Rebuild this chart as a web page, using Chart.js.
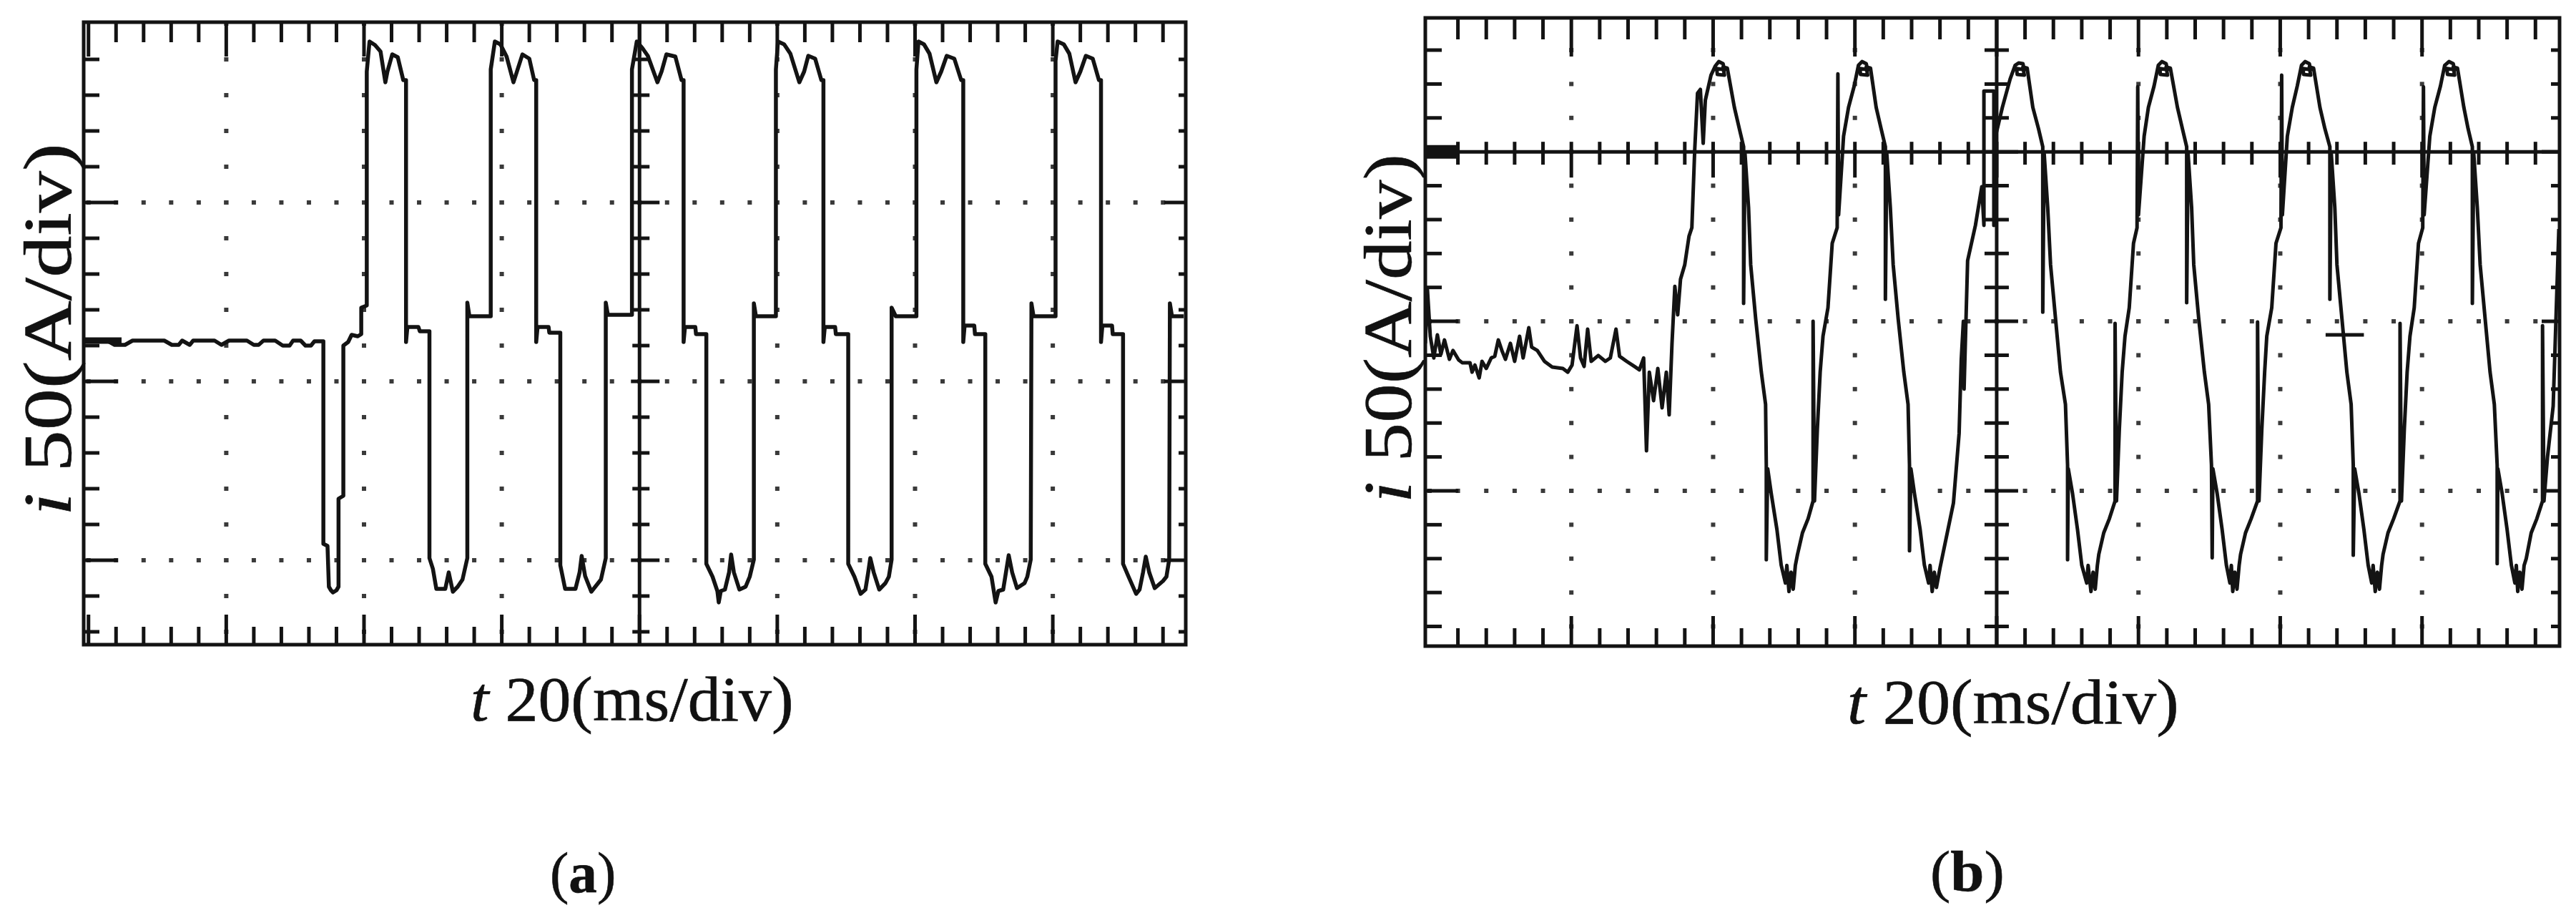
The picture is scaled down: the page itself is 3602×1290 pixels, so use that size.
<!DOCTYPE html>
<html>
<head>
<meta charset="utf-8">
<title>Fault current oscillograms</title>
<script src="https://cdn.jsdelivr.net/npm/chart.js@4.4.1/dist/chart.umd.min.js"></script>
<style>
  html, body { margin: 0; background: #fff; }
  body { width: 3602px; height: 1290px; position: relative; overflow: hidden; font-family: 'Liberation Serif', 'Times New Roman', serif; color: #111; }
  .scope { position: absolute; }
  .lbl { position: absolute; white-space: nowrap; line-height: 1; transform-origin: 0 0; -webkit-text-stroke: 0.6px #111; }
</style>
</head>
<body>
<canvas id="scope-a" class="scope" width="1561" height="890" style="left:107px;top:21px"></canvas>
<canvas id="scope-b" class="scope" width="1606" height="898" style="left:1983px;top:15px"></canvas>

<script>
/* ---- axes: time in ms (20 ms/div), current in A (50 A/div) ---- */
const TIME_RANGE = [0, 160];
const TIME_MINOR = 4;
const CURRENT_MINOR = 10;
const GRID_TIMES = [20, 40, 60, 100, 120, 140];
const CENTER_TIME = 80;
const A_CURRENT_RANGE = [-73.6, 100.4];
const B_CURRENT_RANGE = [-145.8, 39.5];
const A_GRID_CURRENTS = [50, 0, -50];
const B_GRID_CURRENTS = [-50, -100];
const B_AXIS_CURRENT = 0;

/* ---- axis texts ---- */
const X_SYMBOL = 't', X_UNIT = '20(ms/div)';
const Y_SYMBOL = 'i', Y_UNIT = '50(A/div)';
const PANEL_TAGS = ['a', 'b'];

/* ---- (a) current trace, [ms, A] ---- */
const A_PREFAULT = [[0,11.4],[3.4,11.4],[4.5,10.2],[6.0,10.2],[7.1,11.4],[11.7,11.4],[12.8,10.2],[13.8,10.2],[14.3,11.4],
  [15.4,10.2],[15.9,11.4],[19.0,11.4],[20.0,10.2],[21.1,11.4],[23.7,11.4],[24.7,10.2],[25.4,10.2],[26.1,11.4],[27.8,11.4],
  [28.9,10],[29.9,10],[30.4,11.4],[31.5,11.4],[32.2,10],[33.0,10],[33.5,11.2],[34.8,11.2]];
const A_FAULT = [[34.8,-45.4],[35.4,-46],[35.6,-57.4],[35.9,-58.4],[36.2,-59],[36.7,-58.4],[37.0,-57.4],[37.0,-32.8],
  [37.7,-32],[37.7,10],[38.4,11],[38.9,13],[39.8,12.6],[40.3,13.2],[40.3,20.6],[41.1,21.2],[41.1,86.6]];
const A_PULSE_1 = [[41.5,95],[42.3,94],[43.1,92.2],[43.8,83.6],[44.1,86.6],[44.8,91.4],[45.6,90.6],[46.4,84.2],[46.8,84.2],
  [46.8,11],[47.0,15.2],[48.6,15.2],[48.8,14],[50.2,14],[50.2,-49.4],[50.7,-52.4],[51.2,-58],[52.5,-58],[53.0,-53.4],
  [53.6,-58.8],[54.3,-57.4],[55.0,-55.4],[55.7,-49.4],[55.7,22],[56.0,18.2],[59.1,18.2],[59.1,87.2]];
const A_PULSE_2 = [[59.7,95],[60.5,94.2],[61.4,90.8],[62.4,83.6],[62.9,86.6],[63.7,91.4],[64.7,90.2],[65.4,84.2],[65.7,84.2],
  [65.7,11],[65.9,15.2],[67.5,15.2],[67.6,13.6],[69.2,13.6],[69.2,-51.4],[69.9,-58],[71.4,-58],[72.0,-53.4],[72.3,-48.8],
  [72.8,-54.4],[73.7,-58.8],[75.1,-55.4],[75.8,-49.4],[75.8,22],[76.1,18.6],[79.6,18.6],[79.6,87.2]];
const A_PULSE_3 = [[80.3,95],[81.1,93.2],[81.9,91],[83.3,83.6],[83.9,86.6],[84.6,91.4],[85.9,90.8],[86.8,84.2],[87.1,84.2],
  [87.1,11],[87.3,15.2],[88.8,15.2],[88.9,13.2],[90.4,13.2],[90.4,-51],[91.3,-54.6],[92.0,-58.6],[92.2,-61.8],[92.5,-58.6],
  [93.1,-58.2],[93.7,-53.4],[94.0,-48.4],[94.4,-53.4],[95.2,-58.2],[96.1,-57.4],[96.7,-54.6],[97.3,-49.8],[97.3,21.8],
  [97.6,18.2],[100.5,18.2],[100.5,87.2]];
const A_PULSE_4 = [[100.8,95],[101.7,94.2],[102.6,91.6],[103.9,83.6],[104.6,86.6],[105.2,91],[106.2,90.2],[107.1,84.2],
  [107.4,84.2],[107.4,11],[107.6,15.2],[109.1,15.2],[109.2,13.2],[111.0,13.2],[111.0,-51],[111.9,-54.6],[112.8,-59.4],
  [113.5,-58.2],[113.9,-53.4],[114.2,-49.4],[114.7,-53.4],[115.5,-58.2],[116.4,-56.4],[116.9,-54.6],[117.3,-49.8],
  [117.3,20.6],[117.9,18.2],[120.9,18.2],[120.9,87.2]];
const A_PULSE_5 = [[121.2,95],[122.0,94.2],[122.8,91.6],[123.8,83.6],[124.5,86.6],[125.3,91],[126.4,90.2],[127.4,84.2],
  [127.7,84.2],[127.7,11],[127.9,15.6],[129.3,15.6],[129.4,13.2],[130.9,13.2],[130.9,-51],[131.8,-54.6],[132.4,-61.8],
  [132.8,-58.6],[133.5,-58.2],[133.9,-53.4],[134.3,-48.6],[134.8,-53.4],[135.5,-57.8],[136.6,-56.4],[137.0,-54.6],
  [137.5,-49.8],[137.6,21.8],[137.9,18.2],[141.1,18.2],[141.1,89.6]];
const A_PULSE_6 = [[141.4,95],[142.3,94.2],[143.1,91.6],[144.0,83.6],[144.7,86.6],[145.5,91],[146.5,90.2],[147.4,84.2],
  [147.7,84.2],[147.7,11],[147.9,15.6],[149.3,15.6],[149.4,13.2],[150.9,13.2],[150.9,-51],[151.7,-54.6],[152.8,-59.4],
  [153.3,-58.2],[153.8,-53.4],[154.2,-49],[154.7,-53.4],[155.5,-57.8],[156.7,-55.8],[157.2,-54.6],[157.6,-49.8],
  [157.7,21.8],[158.0,18.2],[159.7,18.2]];
const A_START_MARK = [[0,11.4],[5.5,11.4]];

/* ---- (b) current trace, [ms, A] ---- */
const B_PREFAULT = [[0,-56.5],[0.3,-40.7],[0.7,-54.4],[1.2,-60.8],[1.7,-54],[2.2,-59.7],[2.7,-55.5],[3.4,-61.2],[3.9,-58.6],
  [4.7,-61.4],[5.2,-62.2],[6.3,-62.2],[6.6,-65],[7.0,-62.9],[7.6,-66.7],[8.0,-61.8],[8.6,-63.9],[9.3,-60.8],[9.8,-60.3],
  [10.3,-55.5],[10.8,-58.6],[11.3,-61.2],[12.0,-56.5],[12.6,-61.8],[13.3,-54.4],[13.8,-60.8],[14.6,-51.9],[15.0,-57.6],
  [15.8,-58.6],[16.8,-61.8],[17.9,-63.5],[19.4,-63.9],[20.1,-65],[20.7,-62.9],[21.4,-51.3],[21.9,-60.8],[22.4,-63.3],
  [22.9,-52.3],[23.4,-61.8],[24.4,-60.1],[25.4,-61.8],[26.1,-60.8],[26.9,-52.3],[27.4,-60.3],[28.4,-61.8],[29.5,-63.3],
  [30.2,-64.3],[30.8,-60.8],[31.2,-88.2],[31.6,-65],[32.2,-73.4],[32.8,-63.9],[33.4,-75.5],[34.0,-65],[34.4,-77.6],
  [34.8,-56.5],[35.2,-39.7],[35.6,-48.1],[36.0,-37.6],[36.6,-33.3],[37.2,-24.9],[37.6,-22.4],[38.0,0.4],[38.4,17.3],
  [38.8,18.4],[39.2,2.5],[39.5,15.2],[40.3,22.6],[40.9,25.3]];
const B_CYCLE_1 = [[41.4,26.6],[42.0,26.0],[42.2,24.2],[41.1,24.6],[41.2,22.8],[42.2,22.6],[42.0,25.0],[42.6,24.7],
  [43.6,13.1],[44.3,6.8],[44.9,1.5],[44.9,-44.7],[45.1,-0.6],[45.6,-16.5],[45.9,-33.3],[46.6,-49.2],[47.4,-65],[48.0,-74.5],
  [48.1,-92.4],[48.1,-120.3],[48.3,-93.5],[48.8,-100.8],[49.6,-111.4],[50.2,-121.9],[50.8,-127.2],[51.0,-122],[51.3,-129.7],
  [51.6,-124],[51.9,-129],[52.2,-122],[52.5,-118.8],[53.2,-112.4],[54.0,-108.2],[54.7,-103],[54.7,-50],[54.9,-103],
  [55.3,-81.9],[55.7,-65],[56.1,-54.4],[56.8,-46],[57.4,-27],[58.1,-22.4],[58.2,23],[58.3,-18.6],[59.0,4.6],[59.7,13.1],
  [60.5,19.4],[61.1,25.5]];
const B_CYCLE_2 = [[61.6,26.6],[62.2,26.0],[62.4,24.2],[61.3,24.6],[61.4,22.8],[62.4,22.6],[62.2,25.0],[62.8,24.7],
  [63.6,13.1],[64.3,6.8],[64.9,1.5],[64.9,-43.5],[65.1,-0.6],[65.6,-16.5],[66.0,-33.3],[66.7,-49.2],[67.5,-65],[68.1,-74.5],
  [68.3,-92.4],[68.3,-117.7],[68.5,-93.5],[69.0,-100.8],[69.8,-111.4],[70.4,-121.9],[71.0,-127.2],[71.2,-122],[71.5,-129.7],
  [71.8,-124],[72.1,-128.5],[72.6,-122.8],[74.5,-103.6],[75.3,-83.1],[75.6,-61.4],[75.9,-50],[76.0,-70],[76.5,-32.1],
  [77.6,-21.7],[78.5,-10.3],[78.8,-21.7],[78.8,17.9],[80.2,17.9],[80.2,-21.7],[80.2,2.5],[81.4,13.1],[82.5,21.5],[83.2,25.5]];
const B_CYCLE_3 = [[83.7,26.2],[84.3,26.0],[84.5,24.2],[83.4,24.6],[83.5,22.8],[84.5,22.6],[84.3,25.0],[84.9,24.7],
  [85.7,13.1],[86.5,6.8],[87.1,1.5],[87.1,-47.3],[87.3,-0.6],[87.8,-16.5],[88.2,-33.3],[88.9,-49.2],[89.6,-65],[90.3,-74.5],
  [90.6,-92.4],[90.6,-120.3],[90.7,-93.5],[91.3,-100.8],[92.0,-111.4],[92.6,-121.9],[93.3,-127.2],[93.5,-122],[93.9,-129.7],
  [94.2,-124],[94.5,-129],[94.8,-122],[95.0,-118.8],[95.7,-112.4],[96.5,-108.2],[97.3,-103],[97.3,-50.6],[97.5,-103],
  [97.9,-81.9],[98.3,-65],[98.7,-54.4],[99.3,-46],[99.9,-27],[100.4,-22.4],[100.5,19.2],[100.6,-18.6],[101.4,4.6],
  [102.0,13.1],[102.8,19.4],[103.4,25.5]];
const B_CYCLE_4 = [[103.9,26.6],[104.5,26.0],[104.7,24.2],[103.6,24.6],[103.7,22.8],[104.7,22.6],[104.5,25.0],[105.1,24.7],
  [106.1,13.1],[106.8,6.8],[107.4,1.5],[107.4,-44.5],[107.6,-0.6],[108.1,-16.5],[108.4,-33.3],[109.1,-49.2],[109.9,-65],
  [110.5,-74.5],[110.9,-92.4],[111.0,-119.8],[111.1,-93.5],[111.7,-100.8],[112.4,-111.4],[113.0,-121.9],[113.5,-127.2],
  [113.7,-122],[113.9,-129.7],[114.2,-124],[114.5,-129],[114.8,-122],[115.0,-118.8],[115.7,-112.4],[116.5,-108.2],
  [117.4,-103],[117.4,-50.2],[117.6,-103],[118.0,-81.9],[118.4,-65],[118.7,-54.4],[119.4,-46],[120.0,-27],[120.7,-22.4],
  [120.8,22.6],[120.9,-18.6],[121.6,4.6],[122.3,13.1],[123.0,19.4],[123.6,25.5]];
const B_CYCLE_5 = [[124.1,26.6],[124.7,26.0],[124.9,24.2],[123.8,24.6],[123.9,22.8],[124.9,22.6],[124.7,25.0],[125.3,24.7],
  [126.2,13.1],[126.9,6.8],[127.6,1.5],[127.6,-43.5],[127.8,-0.6],[128.3,-16.5],[128.6,-33.3],[129.3,-49.2],[130.0,-65],
  [130.6,-74.5],[130.9,-92.4],[130.9,-119],[131.1,-93.5],[131.7,-100.8],[132.4,-111.4],[133.0,-121.9],[133.5,-127.2],
  [133.7,-122],[134.0,-129.7],[134.3,-124],[134.6,-129],[134.9,-122],[135.1,-118.8],[135.8,-112.4],[136.6,-108.2],
  [137.5,-103],[137.5,-50.6],[137.7,-103],[138.1,-81.9],[138.5,-65],[138.9,-54.4],[139.5,-46],[140.1,-27],[140.7,-22.4],
  [140.8,19.2],[140.9,-18.6],[141.7,4.6],[142.4,13.1],[143.2,19.4],[143.8,25.5]];
const B_CYCLE_6 = [[144.4,26.6],[145.0,26.0],[145.2,24.2],[144.1,24.6],[144.2,22.8],[145.2,22.6],[145.0,25.0],[145.6,24.7],
  [146.5,13.1],[147.1,6.8],[147.7,1.5],[147.7,-44.7],[147.9,-0.6],[148.4,-16.5],[148.8,-33.3],[149.5,-49.2],[150.2,-65],
  [150.8,-74.5],[151.2,-92.4],[151.2,-121.5],[151.3,-93.5],[151.9,-100.8],[152.6,-111.4],[153.2,-121.9],[153.7,-127.2],
  [153.9,-122],[154.1,-129.7],[154.4,-124],[154.7,-129],[155.0,-122],[155.3,-120],[156.0,-112.4],[156.8,-108.2],
  [157.6,-103],[157.6,-51.3],[157.8,-103],[158.3,-90],[159.1,-75],[159.9,-22.8]];
const B_GROUND_MARK = [[0,0],[4.7,0]];
const B_CURSOR = [[127.0,-54],[132.4,-54]];

/* ---- drawing ---- */
const INK = '#131313';
const DOT = '#3a3a3a';

const pts = arr => arr.map(([x, y]) => ({ x, y }));

function traceSet(data, width) {
  return {
    data: pts(data),
    showLine: true,
    borderColor: INK,
    borderWidth: width,
    borderJoinStyle: 'round',
    pointRadius: 0,
    tension: 0
  };
}

// oscilloscope graticule: dotted grid, centre lines, edge ticks, frame
function makeGraticule(g) {
  return {
    id: 'graticule',
    beforeDatasetsDraw(chart) {
      const { ctx, chartArea: a, scales: { x, y } } = chart;
      const tMinor = [];
      for (let k = 0; g.offset + k * TIME_MINOR <= x.max; k++) {
        tMinor.push({ t: g.offset + k * TIME_MINOR, major: k % 5 === 0 });
      }
      const vMinor = [];
      for (let k = Math.ceil(y.min / CURRENT_MINOR); k * CURRENT_MINOR <= y.max; k++) {
        vMinor.push({ v: k * CURRENT_MINOR, major: k % 5 === 0 });
      }
      const seg = (x1, y1, x2, y2) => { ctx.beginPath(); ctx.moveTo(x1, y1); ctx.lineTo(x2, y2); ctx.stroke(); };

      ctx.save();
      // dotted grid
      ctx.fillStyle = DOT;
      const d = g.dot;
      g.rows.forEach(v => {
        const py = y.getPixelForValue(v);
        tMinor.forEach(({ t }) => ctx.fillRect(x.getPixelForValue(t) - d / 2, py - d / 2, d, d));
      });
      g.cols.forEach(c => {
        const px = x.getPixelForValue(c + g.offset);
        vMinor.forEach(({ v }) => ctx.fillRect(px - d / 2, y.getPixelForValue(v) - d / 2, d, d));
      });

      // ticks
      ctx.strokeStyle = INK;
      ctx.lineWidth = g.tickWidth;
      ctx.lineCap = 'butt';
      const cx = x.getPixelForValue(g.center + g.offset);
      tMinor.forEach(({ t, major }) => {
        const px = x.getPixelForValue(t);
        if (px < a.left + 6 || px > a.right - 6) return;
        const i = major ? 1 : 0;
        seg(px, a.top, px, a.top + g.top[i]);
        seg(px, a.bottom, px, a.bottom - g.bottom[i]);
        if (g.axis !== null) {
          const py = y.getPixelForValue(g.axis);
          seg(px, py - g.axisTick[i][0], px, py + g.axisTick[i][1]);
        }
      });
      vMinor.forEach(({ v, major }) => {
        const py = y.getPixelForValue(v);
        if (py < a.top + 6 || py > a.bottom - 6) return;
        const i = major ? 1 : 0;
        seg(a.left, py, a.left + g.left[i], py);
        seg(a.right, py, a.right - g.right[i], py);
        seg(cx - g.centerTick[i][0], py, cx + g.centerTick[i][1], py);
      });

      // solid centre lines
      ctx.lineWidth = g.lineWidth;
      seg(cx, a.top, cx, a.bottom);
      if (g.axis !== null) {
        const py = y.getPixelForValue(g.axis);
        seg(a.left, py, a.right, py);
      }
      ctx.restore();
    },
    afterDatasetsDraw(chart) {
      const { ctx, chartArea: a } = chart;
      ctx.save();
      ctx.strokeStyle = INK;
      ctx.lineWidth = g.lineWidth;
      ctx.strokeRect(a.left, a.top, a.right - a.left, a.bottom - a.top);
      ctx.restore();
    }
  };
}

function scopeChart(id, yRange, datasets, g) {
  return new Chart(document.getElementById(id), {
    type: 'scatter',
    data: { datasets },
    options: {
      responsive: false,
      animation: false,
      events: [],
      layout: { padding: 10 },
      scales: {
        x: { type: 'linear', min: TIME_RANGE[0], max: TIME_RANGE[1], display: false },
        y: { type: 'linear', min: yRange[0], max: yRange[1], display: false }
      },
      plugins: { legend: { display: false }, tooltip: { enabled: false } }
    },
    plugins: [makeGraticule(g)]
  });
}

const traceA = [].concat(A_PREFAULT, A_FAULT, A_PULSE_1, A_PULSE_2, A_PULSE_3, A_PULSE_4, A_PULSE_5, A_PULSE_6);
const traceB = [].concat(B_PREFAULT, B_CYCLE_1, B_CYCLE_2, B_CYCLE_3, B_CYCLE_4, B_CYCLE_5, B_CYCLE_6);

scopeChart('scope-a', A_CURRENT_RANGE, [
  traceSet(traceA, 5.5),
  traceSet(A_START_MARK, 9)
], {
  offset: 0.7, center: CENTER_TIME, cols: GRID_TIMES, rows: A_GRID_CURRENTS, axis: null,
  dot: 6, lineWidth: 5, tickWidth: 5,
  top: [28, 48], bottom: [25, 42], left: [22, 48], right: [10, 30],
  centerTick: [[10, 14], [12, 28]], axisTick: null
});

scopeChart('scope-b', B_CURRENT_RANGE, [
  traceSet(traceB, 5),
  traceSet(B_GROUND_MARK, 19),
  traceSet(B_CURSOR, 5)
], {
  offset: 0.6, center: CENTER_TIME, cols: GRID_TIMES, rows: B_GRID_CURRENTS, axis: B_AXIS_CURRENT,
  dot: 6, lineWidth: 5, tickWidth: 5,
  top: [30, 54], bottom: [25, 42], left: [23, 46], right: [12, 25],
  centerTick: [[17, 17], [17, 30]], axisTick: [[14, 18], [14, 36]]
});

/* ---- axis titles and panel tags ---- */
const xTitle = `<i>${X_SYMBOL}</i> ${X_UNIT}`;
const yTitle = `<i>${Y_SYMBOL}</i> ${Y_UNIT}`;
const LABELS = [
  { html: yTitle, kind: 'y', baseline: 100, start: 721, length: 521, size: 95 },
  { html: yTitle, kind: 'y', baseline: 1974, start: 703, length: 488, size: 95 },
  { html: xTitle, kind: 'x', left: 658, baseline: 1008, length: 452, size: 88 },
  { html: xTitle, kind: 'x', left: 2583, baseline: 1012, length: 464, size: 88 },
  { html: `(<b>${PANEL_TAGS[0]}</b>)`, kind: 'x', left: 769, baseline: 1247, length: 92, size: 80 },
  { html: `(<b>${PANEL_TAGS[1]}</b>)`, kind: 'x', left: 2699, baseline: 1245, length: 104, size: 80 }
];
const ASCENT = 0.8375; // Liberation Serif baseline offset at line-height 1

LABELS.forEach(L => {
  const el = document.createElement('div');
  el.className = 'lbl';
  el.innerHTML = L.html;
  el.style.fontSize = L.size + 'px';
  document.body.appendChild(el);
  const s = L.length / el.offsetWidth;
  if (L.kind === 'y') {
    el.style.left = (L.baseline - ASCENT * L.size) + 'px';
    el.style.top = L.start + 'px';
    el.style.transform = `rotate(-90deg) scaleX(${s})`;
  } else {
    el.style.left = L.left + 'px';
    el.style.top = (L.baseline - ASCENT * L.size) + 'px';
    el.style.transform = `scaleX(${s})`;
  }
});
</script>
</body>
</html>
